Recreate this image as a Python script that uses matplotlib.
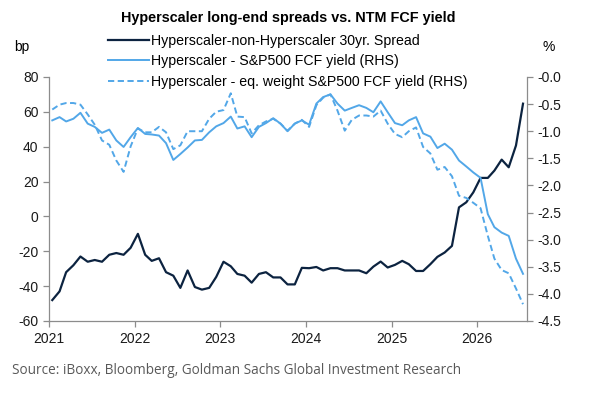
import pandas as pd
import matplotlib
matplotlib.use("Agg")
import matplotlib.pyplot as plt
import matplotlib.dates as mdates
from matplotlib.lines import Line2D

plt.rcParams["font.family"] = ["Liberation Sans", "DejaVu Sans"]
plt.rcParams["axes.unicode_minus"] = False

# monthly observations, Jan 2021 - Jul 2026
dates = pd.date_range("2021-01-01", periods=67, freq="MS") + pd.Timedelta(days=14)

spread_30yr = [
    -48, -43, -32, -28, -23, -26, -25, -26, -22, -21, -22, -18,
    -10, -22, -25.5, -24, -32, -34, -41, -31, -40.5, -42, -41, -34.7,
    -26, -28.6, -33, -34, -38, -33, -32, -35, -35, -39, -39, -29.5,
    -29.7, -29, -31, -29.7, -29.7, -31, -31, -31, -32.6, -28.8, -25.9, -29.3,
    -27.8, -25.5, -27.4, -31.3, -31.3, -27.4, -23.2, -20.7, -16.9, 5.2, 8.1, 13.8,
    22.1, 22.1, 26.3, 32.6, 28.2, 40.7, 64.7,
]

fcf_sp500 = [
    -0.80, -0.74, -0.82, -0.77, -0.66, -0.86, -0.92, -1.03, -0.97, -1.17, -1.29, -1.11,
    -0.94, -1.05, -1.06, -1.08, -1.22, -1.53, -1.42, -1.30, -1.17, -1.16, -1.02, -0.91,
    -0.85, -0.73, -0.95, -0.91, -1.11, -0.92, -0.85, -0.76, -0.86, -1.00, -0.86, -0.80,
    -0.88, -0.49, -0.37, -0.32, -0.49, -0.62, -0.57, -0.52, -0.57, -0.65, -0.45, -0.65,
    -0.85, -0.89, -0.80, -0.74, -1.04, -1.10, -1.31, -1.23, -1.34, -1.54, -1.65, -1.76,
    -1.86, -2.53, -2.77, -2.87, -2.93, -3.35, -3.63,
]

fcf_eqw = [
    -0.60, -0.51, -0.48, -0.48, -0.51, -0.69, -0.88, -1.17, -1.25, -1.54, -1.75, -1.28,
    -0.95, -1.02, -1.02, -0.92, -1.02, -1.33, -1.26, -1.00, -1.00, -1.00, -0.77, -0.64,
    -0.61, -0.30, -0.73, -0.74, -1.04, -0.89, -0.82, -0.77, -0.86, -0.99, -0.86, -0.79,
    -0.92, -0.52, -0.38, -0.32, -0.62, -0.99, -0.79, -0.71, -0.71, -0.73, -0.62, -0.86,
    -1.05, -1.11, -1.00, -0.93, -1.29, -1.41, -1.71, -1.66, -1.83, -2.19, -2.23, -2.32,
    -2.42, -2.93, -3.35, -3.56, -3.62, -3.90, -4.19,
]

labels = [
    "Hyperscaler-non-Hyperscaler 30yr. Spread",
    "Hyperscaler - S&P500 FCF yield (RHS)",
    "Hyperscaler - eq. weight S&P500 FCF yield (RHS)",
]

NAVY = "#0c2340"
BLUE = "#52a7e8"
GREY = "#8c8c8c"

fig = plt.figure(figsize=(6, 4), dpi=100)
ax = fig.add_axes([49 / 600, 1 - 321 / 400, (527 - 49) / 600, (321 - 77) / 400])
ax2 = ax.twinx()

ax.plot(dates, spread_30yr, color=NAVY, lw=1.6, zorder=3)
ax2.plot(dates, fcf_sp500, color=BLUE, lw=1.4)
ax2.plot(dates, fcf_eqw, color=BLUE, lw=1.4, ls=(0, (3.2, 1.8)))

ax.set_xlim(pd.Timestamp("2021-01-01"), pd.Timestamp("2026-08-01"))
ax.set_ylim(-60, 80)
ax.set_yticks(range(-60, 81, 20))
ax2.set_ylim(-4.5, 0)
ax2.set_yticks([i * -0.5 for i in range(10)])
ax2.yaxis.set_major_formatter(plt.FuncFormatter(lambda v, p: f"{v:.1f}"))
ax.xaxis.set_major_locator(mdates.YearLocator())
ax.xaxis.set_major_formatter(mdates.DateFormatter("%Y"))

for a in (ax, ax2):
    a.spines["top"].set_visible(False)
    for s in ("left", "right", "bottom"):
        a.spines[s].set_color(GREY)
        a.spines[s].set_linewidth(0.9)
    a.tick_params(colors=GREY, labelcolor="#1a1a1a", labelsize=10, length=4, width=0.9)
ax.spines["right"].set_visible(False)
ax2.spines["left"].set_visible(False)
ax2.spines["bottom"].set_visible(False)
ax.tick_params(axis="x", pad=4)

fig.text(0.48, 1 - 18 / 400, "Hyperscaler long-end spreads vs. NTM FCF yield",
         ha="center", va="center", fontsize=10.4, fontweight="bold")
fig.text(22 / 600, 1 - 47 / 400, "bp", ha="center", va="center", fontsize=10)
fig.text(549 / 600, 1 - 47 / 400, "%", ha="center", va="center", fontsize=10)

handles = [
    Line2D([], [], color=NAVY, lw=1.6),
    Line2D([], [], color=BLUE, lw=1.4),
    Line2D([], [], color=BLUE, lw=1.4, ls=(0, (3.2, 1.8))),
]
fig.legend(handles, labels, loc="upper left", bbox_to_anchor=(108 / 600, 1 - 34 / 400),
           frameon=False, fontsize=10.2, handlelength=2.9, handletextpad=0.15,
           labelspacing=0.45, borderpad=0, borderaxespad=0)

fig.text(12 / 600, 1 - 371 / 400,
         "Source: iBoxx, Bloomberg, Goldman Sachs Global Investment Research",
         ha="left", va="center", fontsize=9.8, color="#595959", family="Open Sans")

fig.savefig("out.png", dpi=100)
